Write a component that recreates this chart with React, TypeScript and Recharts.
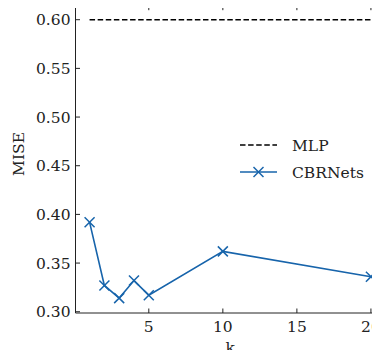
import React from 'react';
import { LineChart, Line, XAxis, YAxis, Legend } from 'recharts';

// values
const kValues = [1, 2, 3, 4, 5, 10, 20];
const cbrNetsMise = [0.392, 0.327, 0.314, 0.332, 0.317, 0.362, 0.336];
const mlpMise = [0.6, 0.6, 0.6, 0.6, 0.6, 0.6, 0.6];
const xTicks = [5, 10, 15, 20];
const yTicks = [0.3, 0.35, 0.4, 0.45, 0.5, 0.55, 0.6];

const data = kValues.map((k, i) => ({ k, cbr: cbrNetsMise[i], mlp: mlpMise[i] }));

const BLUE = '#1764ab';
const INK = '#222';
const FONT = 'DejaVu Serif';
const FS = 15.5;
const tickStyle = { fontFamily: FONT, fontSize: FS, fill: INK };
const hiddenTick = { fill: 'transparent', fontSize: 1 };

const XMark = (props: any) => {
  const { cx, cy } = props;
  if (cx == null || cy == null) return null;
  const r = 5;
  return (
    <g stroke={BLUE} strokeWidth={1.5}>
      <line x1={cx - r} y1={cy - r} x2={cx + r} y2={cy + r} />
      <line x1={cx - r} y1={cy + r} x2={cx + r} y2={cy - r} />
    </g>
  );
};

const MiseLabel = () => {
  const cx = 19;
  const cy = 154;
  return (
    <text x={cx} y={cy} transform={`rotate(-90, ${cx}, ${cy})`} textAnchor="middle" dy="0.35em"
      fontFamily={FONT} fontSize={FS} fill={INK}>MISE</text>
  );
};

const KLabel = (props: any) => {
  const vb = props.viewBox || {};
  return (
    <text x={vb.x + vb.width / 2} y={353} textAnchor="middle" fontFamily={FONT} fontSize={FS} fill={INK}>k</text>
  );
};

const LegendBox = () => (
  <svg width={140} height={60} style={{ display: 'block' }}>
    <line x1={5} y1={15} x2={42} y2={15} stroke="#000" strokeWidth={1.6} strokeDasharray="5.5 2.6" />
    <text x={57} y={20.5} fontFamily={FONT} fontSize={FS} fill={INK}>MLP</text>
    <line x1={5} y1={42} x2={42} y2={42} stroke={BLUE} strokeWidth={1.6} />
    <XMark cx={23.5} cy={42} />
    <text x={57} y={47.5} fontFamily={FONT} fontSize={FS} fill={INK}>CBRNets</text>
  </svg>
);

export default function App() {
  return (
    <div style={{ margin: -8, width: 380, height: 358, overflow: 'hidden', position: 'relative', background: '#fff',
      fontFamily: FONT, fontSize: FS }}>
      <LineChart width={392} height={358} data={data} margin={{ top: 0, right: 5, bottom: 0, left: 0 }}>
        <XAxis xAxisId="b" dataKey="k" type="number" domain={[0.05, 20.95]} ticks={xTicks} allowDataOverflow
          orientation="bottom" height={45} tickSize={-4.5} tickMargin={12} stroke={INK} tick={tickStyle}
          label={<KLabel />} />
        <XAxis xAxisId="t" dataKey="k" type="number" domain={[0.05, 20.95]} ticks={xTicks} allowDataOverflow
          orientation="top" height={5.7} tickSize={-4.5} stroke={INK} tick={hiddenTick} />
        <YAxis yAxisId="l" type="number" domain={[0.2987, 0.6144]} ticks={yTicks} allowDataOverflow
          orientation="left" width={75.5} tickSize={-4.5} tickMargin={9.5} stroke={INK} tick={tickStyle}
          tickFormatter={(v: number) => v.toFixed(2)} label={<MiseLabel />} />
        <YAxis yAxisId="r" type="number" domain={[0.2987, 0.6144]} ticks={yTicks} allowDataOverflow
          orientation="right" width={2} tickSize={-4.5} stroke={INK} tick={hiddenTick} />
        <Line xAxisId="b" yAxisId="l" dataKey="mlp" stroke="#000" strokeWidth={1.6} strokeDasharray="5.5 2.6"
          dot={false} activeDot={false} isAnimationActive={false} />
        <Line xAxisId="b" yAxisId="l" dataKey="cbr" stroke={BLUE} strokeWidth={1.6}
          dot={<XMark />} activeDot={false} isAnimationActive={false} />
        <Legend layout="horizontal" verticalAlign="middle" align="center" content={<LegendBox />}
          wrapperStyle={{ position: 'absolute', left: 235, top: 130, width: 140, height: 60 }} />
      </LineChart>
    </div>
  );
}
